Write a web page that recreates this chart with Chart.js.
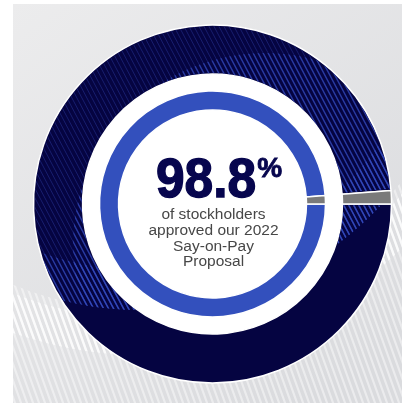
<!DOCTYPE html>
<html>
<head>
<meta charset="UTF-8">
<style>
  body { margin: 0; background: #fff; }
  .wrap { position: relative; width: 402px; height: 405px; }
</style>
</head>
<body>
<div class="wrap"><canvas id="vote"></canvas></div>
<script src="https://cdn.jsdelivr.net/npm/chart.js"></script>
<script>
// 2022 say-on-pay vote
var labels = ["For", "Against / abstain"];
var votes = [98.8, 1.2];
var headline = "98.8";
var caption = ["of stockholders", "approved our 2022", "Say-on-Pay", "Proposal"];

var NAVY = "#050441", BLUE = "#3350bd", GREY = "#7a7a7a";

// big background circle splitting striped / plain areas
var swoosh = { x: 140, y: -20, r: 330 };
var glow = { x: 265, y: 245, r: 192 };

function stripes(ctx, step, slope, color, width) {
  ctx.strokeStyle = color;
  ctx.lineWidth = width;
  ctx.beginPath();
  for (var x = -400; x < 800; x += step) {
    ctx.moveTo(x, 0);
    ctx.lineTo(x + 405 * slope, 405);
  }
  ctx.stroke();
}

function ring(ctx, a, r1, r2) {
  ctx.beginPath();
  ctx.arc(a.x, a.y, r2, 0, Math.PI * 2);
  ctx.arc(a.x, a.y, r1, 0, Math.PI * 2, true);
  ctx.closePath();
}

var backdrop = {
  id: 'backdrop',
  beforeDraw: function (chart) {
    var ctx = chart.ctx;
    ctx.save();
    var g = ctx.createLinearGradient(13, 4, 300, 405);
    g.addColorStop(0, '#ececed');
    g.addColorStop(1, '#dadbde');
    ctx.fillStyle = g;
    ctx.fillRect(13, 4, 389, 399);

    // white stripes outside the swoosh
    ctx.beginPath();
    ctx.rect(13, 4, 389, 399);
    ctx.arc(swoosh.x, swoosh.y, swoosh.r, 0, Math.PI * 2, true);
    ctx.clip('evenodd');
    stripes(ctx, 6, 0.36, 'rgba(255,255,255,0.45)', 2.2);
    ring(ctx, swoosh, swoosh.r + 8, swoosh.r + 45);
    ctx.clip();
    stripes(ctx, 6, 0.36, 'rgba(255,255,255,0.75)', 2.4);
    ctx.restore();
  },
  beforeDatasetsDraw: function (chart) {
    var a = chart.getDatasetMeta(0).data[0];
    var ctx = chart.ctx;
    ctx.save();
    ctx.fillStyle = '#fff';
    ctx.beginPath();
    ctx.arc(a.x, a.y, a.innerRadius, 0, Math.PI * 2);
    ctx.fill();
    ctx.restore();
  },
  afterDatasetsDraw: function (chart) {
    var a = chart.getDatasetMeta(0).data[0];
    var ctx = chart.ctx;
    ctx.save();
    // clip to the navy segment
    ctx.beginPath();
    ctx.arc(a.x, a.y, a.outerRadius - 1, a.startAngle + 0.01, a.endAngle - 0.01);
    ctx.arc(a.x, a.y, a.innerRadius + 1, a.endAngle - 0.01, a.startAngle + 0.01, true);
    ctx.closePath();
    ctx.clip();
    ctx.beginPath();
    ctx.arc(swoosh.x, swoosh.y, swoosh.r, 0, Math.PI * 2);
    ctx.clip();
    stripes(ctx, 5, 0.53, 'rgba(60,80,195,0.35)', 1);

    ctx.save();
    ctx.beginPath();
    ctx.arc(glow.x, glow.y, glow.r, 0, Math.PI * 2);
    ctx.clip();
    stripes(ctx, 5, 0.53, 'rgba(55,80,200,0.6)', 1.5);
    ctx.restore();

    ring(ctx, swoosh, swoosh.r - 40, swoosh.r);
    ctx.clip();
    stripes(ctx, 5, 0.53, 'rgba(55,80,200,0.6)', 1.5);
    ctx.restore();
  },
  afterDraw: function (chart) {
    var a = chart.getDatasetMeta(0).data[0];
    var ctx = chart.ctx;
    var big = 'bold 56px "Liberation Sans", Arial, sans-serif';
    var pct = 'bold 28px "Liberation Sans", Arial, sans-serif';
    ctx.save();
    ctx.textBaseline = 'alphabetic';
    ctx.fillStyle = '#07064e';
    ctx.strokeStyle = '#07064e';
    ctx.lineWidth = 1.4;
    ctx.font = big;
    var w = ctx.measureText(headline).width * 0.92;
    ctx.font = pct;
    var pw = ctx.measureText('%').width;
    var left = a.x + 6.5 - (w + 1 + pw) / 2;

    ctx.save();
    ctx.translate(left, a.y - 7);
    ctx.scale(0.92, 1);
    ctx.font = big;
    ctx.fillText(headline, 0, 0);
    ctx.strokeText(headline, 0, 0);
    ctx.restore();

    ctx.font = pct;
    ctx.lineWidth = 0.8;
    ctx.fillText('%', left + w + 1, a.y - 27);
    ctx.strokeText('%', left + w + 1, a.y - 27);

    ctx.fillStyle = '#474747';
    ctx.font = '15.5px "Liberation Sans", Arial, sans-serif';
    ctx.textAlign = 'center';
    caption.forEach(function (line, i) {
      ctx.fillText(line, a.x + 1, a.y + 15 + i * 15.8);
    });
    ctx.restore();
  }
};

new Chart(document.getElementById('vote'), {
  type: 'doughnut',
  data: {
    labels: labels,
    datasets: [
      { data: votes, backgroundColor: [NAVY, GREY], borderColor: '#fff', borderWidth: 1.5, weight: 49 },
      // white gap between the two rings
      { data: [100], backgroundColor: 'rgba(0,0,0,0)', borderWidth: 0, weight: 17 },
      { data: votes, backgroundColor: [BLUE, GREY], borderColor: '#fff', borderWidth: 1.5, weight: 19 }
    ]
  },
  options: {
    responsive: true,
    maintainAspectRatio: false,
    animation: false,
    events: [],
    rotation: 90,
    cutout: '52.5%',
    layout: { padding: { left: 32.75, right: 9.75, top: 24.25, bottom: 21.25 } },
    plugins: { legend: { display: false }, tooltip: { enabled: false } }
  },
  plugins: [backdrop]
});
</script>
</body>
</html>
